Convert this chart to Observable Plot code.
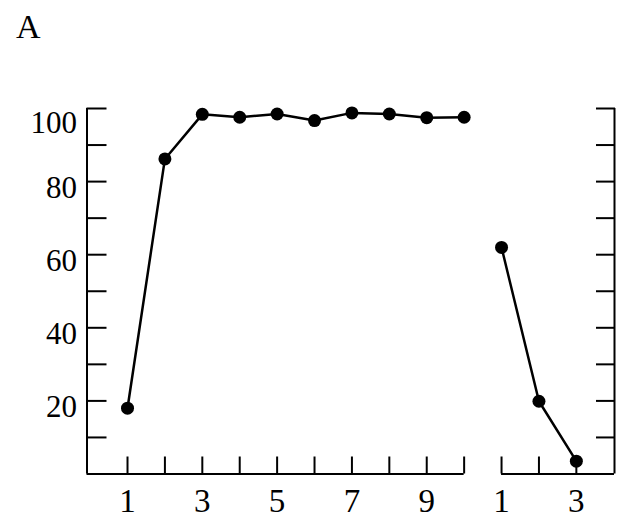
<!DOCTYPE html>
<html>
<head>
<meta charset="utf-8">
<script src="https://cdn.jsdelivr.net/npm/d3@7"></script>
<script src="https://cdn.jsdelivr.net/npm/@observablehq/plot@0.6"></script>
<style>
  html, body { margin: 0; padding: 0; background: #fff; }
  #wrap { position: relative; width: 640px; height: 521px; }
  #panel { position: absolute; left: 16px; top: 10px; font-family: "Liberation Serif", serif; font-size: 34px; color: #000; line-height: 1; }
</style>
</head>
<body>
<div id="wrap"><div id="panel">A</div></div>
<script>
// Data
const leftX = [1, 2, 3, 4, 5, 6, 7, 8, 9, 10];
const leftY = [18, 86.2, 98.4, 97.6, 98.5, 96.7, 98.8, 98.5, 97.5, 97.6];
const rightX = [1, 2, 3];
const rightY = [62, 19.9, 3.5];
const rightOffset = 10;
const yTicks = [10, 20, 30, 40, 50, 60, 70, 80, 90, 100];
const yLabels = [20, 40, 60, 80];
const yTopLabel = [100];
const xTicks = [1, 2, 3, 4, 5, 6, 7, 8, 9, 10, 11, 12, 13];
const xLabels = [1, 3, 5, 7, 9, 11, 13];
const xMin = -0.083, xMax = 14.02;

const left = leftX.map((x, i) => ({x, y: leftY[i]}));
const right = rightX.map((x, i) => ({x: x + rightOffset, y: rightY[i]}));

const fmtX = d => d > rightOffset ? String(d - rightOffset) : String(d);

const chart = Plot.plot({
  width: 640,
  height: 521,
  marginLeft: 86.5,
  marginRight: 26,
  marginTop: 108,
  marginBottom: 47.5,
  style: {fontFamily: "'Liberation Serif', 'Times New Roman', serif", background: "white", color: "black"},
  x: {domain: [xMin, xMax]},
  y: {domain: [0, 100]},
  marks: [
    // frame lines
    Plot.ruleX([xMin], {y1: 0, y2: 100, stroke: "black", strokeWidth: 2}),
    Plot.ruleX([xMax], {y1: 0, y2: 100, stroke: "black", strokeWidth: 2}),
    Plot.ruleY([0], {x1: xMin, x2: 10, stroke: "black", strokeWidth: 2}),
    Plot.ruleY([0], {x1: 11, x2: xMax, stroke: "black", strokeWidth: 2}),
    // inward ticks
    Plot.axisY(yTicks, {anchor: "left", tickSize: 20, dx: 20, text: null, label: null, strokeWidth: 2}),
    Plot.axisY(yTicks, {anchor: "right", tickSize: 19, dx: -19, text: null, label: null, strokeWidth: 2}),
    Plot.axisX(xTicks, {anchor: "bottom", tickSize: 17, dy: -17, text: null, label: null, strokeWidth: 2}),
    // labels
    Plot.axisY(yLabels, {anchor: "left", tickSize: 0, tickPadding: 10, fontSize: 31, dy: 6, label: null}),
    Plot.axisY(yTopLabel, {anchor: "left", tickSize: 0, tickPadding: 10, fontSize: 31, dy: 15, label: null}),
    Plot.axisX(xLabels, {anchor: "bottom", tickSize: 0, tickPadding: 15, fontSize: 33, tickFormat: fmtX, label: null}),
    // data
    Plot.line(left, {x: "x", y: "y", stroke: "black", strokeWidth: 2.5}),
    Plot.line(right, {x: "x", y: "y", stroke: "black", strokeWidth: 2.5}),
    Plot.dot(left, {x: "x", y: "y", r: 6.5, fill: "black"}),
    Plot.dot(right, {x: "x", y: "y", r: 6.5, fill: "black"})
  ]
});
document.getElementById("wrap").appendChild(chart);
</script>
</body>
</html>
